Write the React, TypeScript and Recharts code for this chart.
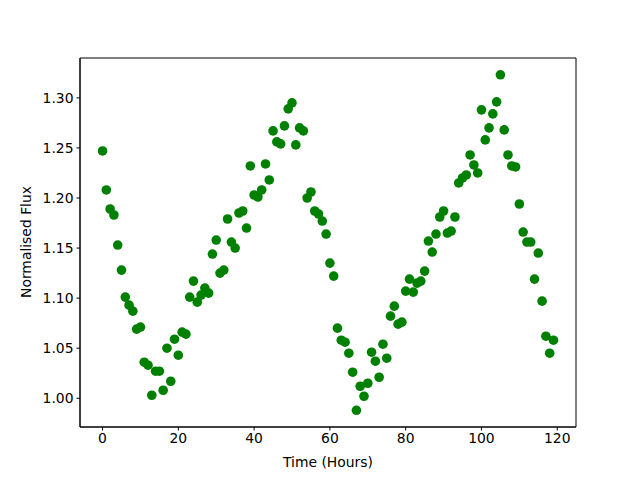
import React from 'react';
import { ScatterChart, Scatter, XAxis, YAxis, ReferenceArea } from 'recharts';

const timeHours = [
  0, 1, 2, 3, 4, 5, 6, 7, 8, 9, 10, 11, 12, 13, 14, 15, 16, 17, 18, 19,
  20, 21, 22, 23, 24, 25, 26, 27, 28, 29, 30, 31, 32, 33, 34, 35, 36, 37, 38, 39,
  40, 41, 42, 43, 44, 45, 46, 47, 48, 49, 50, 51, 52, 53, 54, 55, 56, 57, 58, 59,
  60, 61, 62, 63, 64, 65, 66, 67, 68, 69, 70, 71, 72, 73, 74, 75, 76, 77, 78, 79,
  80, 81, 82, 83, 84, 85, 86, 87, 88, 89, 90, 91, 92, 93, 94, 95, 96, 97, 98, 99,
  100, 101, 102, 103, 104, 105, 106, 107, 108, 109, 110, 111, 112, 113, 114, 115, 116, 117, 118, 119,
];

const normalisedFlux = [
  1.247, 1.208, 1.189, 1.183, 1.153, 1.128, 1.101, 1.093, 1.087, 1.069,
  1.071, 1.036, 1.033, 1.003, 1.027, 1.027, 1.008, 1.050, 1.017, 1.059,
  1.043, 1.066, 1.064, 1.101, 1.117, 1.096, 1.103, 1.110, 1.105, 1.144,
  1.158, 1.125, 1.128, 1.179, 1.156, 1.150, 1.185, 1.187, 1.170, 1.232,
  1.203, 1.201, 1.208, 1.234, 1.218, 1.267, 1.256, 1.254, 1.272, 1.289,
  1.295, 1.253, 1.270, 1.267, 1.200, 1.206, 1.187, 1.184, 1.177, 1.164,
  1.135, 1.122, 1.070, 1.058, 1.056, 1.045, 1.026, 0.988, 1.012, 1.002,
  1.015, 1.046, 1.037, 1.021, 1.054, 1.040, 1.082, 1.092, 1.074, 1.076,
  1.107, 1.119, 1.106, 1.115, 1.117, 1.127, 1.157, 1.146, 1.164, 1.181,
  1.187, 1.165, 1.167, 1.181, 1.215, 1.220, 1.223, 1.243, 1.233, 1.225,
  1.288, 1.258, 1.270, 1.284, 1.296, 1.323, 1.268, 1.243, 1.232, 1.231,
  1.194, 1.166, 1.156, 1.156, 1.119, 1.145, 1.097, 1.062, 1.045, 1.058,
];

const xTicks = [0, 20, 40, 60, 80, 100, 120];
const yTicks = [1.0, 1.05, 1.1, 1.15, 1.2, 1.25, 1.3];
const xDomain = [-5.95, 124.95];
const yDomain = [0.9713, 1.3398];

const data = timeHours.map((t, i) => ({ t, f: normalisedFlux[i] }));

const FONT = 'DejaVu Sans, sans-serif';
const FS = 13.9;

const Dot = (props: any) => (
  <circle cx={props.cx} cy={props.cy} r={4.8} fill="#008000" />
);

export default function App() {
  return (
    <div style={{ position: 'absolute', left: 0, top: 0, width: 640, height: 480, background: '#fff' }}>
      <ScatterChart
        width={640}
        height={480}
        margin={{ top: 58, right: 64, bottom: 0, left: 0 }}
        style={{ fontFamily: FONT }}
      >
        <XAxis
          type="number"
          dataKey="t"
          domain={xDomain}
          ticks={xTicks}
          allowDataOverflow
          height={53}
          tickSize={3.5}
          tickMargin={3}
          stroke="#000"
          tick={{ fill: '#000', fontSize: FS, fontFamily: FONT }}
          tickLine={{ stroke: '#000' }}
          axisLine={{ stroke: '#000' }}
          label={{
            content: () => (
              <text x={328} y={467} textAnchor="middle" fontSize={FS} fontFamily={FONT} fill="#000">
                Time (Hours)
              </text>
            ),
          }}
        />
        <YAxis
          type="number"
          dataKey="f"
          domain={yDomain}
          ticks={yTicks}
          allowDataOverflow
          width={80}
          tickSize={3.5}
          tickMargin={3}
          stroke="#000"
          tickFormatter={(v: number) => v.toFixed(2)}
          tick={{ fill: '#000', fontSize: FS, fontFamily: FONT }}
          tickLine={{ stroke: '#000' }}
          axisLine={{ stroke: '#000' }}
          label={{
            content: () => (
              <text
                x={26}
                y={242}
                transform="rotate(-90, 26, 242)"
                textAnchor="middle"
                dominantBaseline="central"
                fontSize={FS}
                fontFamily={FONT}
                fill="#000"
              >
                Normalised Flux
              </text>
            ),
          }}
        />
        <ReferenceArea
          x1={xDomain[0]}
          x2={xDomain[1]}
          y1={yDomain[0]}
          y2={yDomain[1]}
          fill="none"
          fillOpacity={0}
          stroke="#000"
          strokeWidth={1}
          ifOverflow="visible"
        />
        <Scatter data={data} shape={Dot} isAnimationActive={false} />
      </ScatterChart>
    </div>
  );
}
